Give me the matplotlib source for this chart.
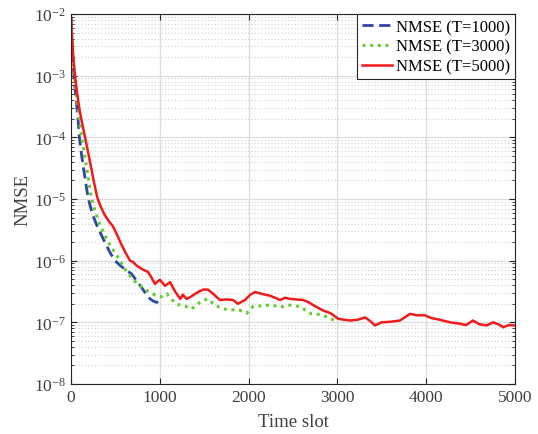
import matplotlib
matplotlib.use("Agg")
import matplotlib.pyplot as plt
from matplotlib.ticker import LogLocator, NullFormatter, MultipleLocator

plt.rcParams['font.family'] = ['Liberation Serif', 'DejaVu Serif']
plt.rcParams['mathtext.fontset'] = 'custom'
plt.rcParams['mathtext.rm'] = 'Liberation Serif'
plt.rcParams['mathtext.it'] = 'Liberation Serif:italic'
plt.rcParams['axes.unicode_minus'] = False

# T = 1000
t_1000 = [0, 10, 20, 30, 45, 60, 80, 94, 120, 150, 175, 195, 240, 285, 327, 380,
          440, 495, 560, 627, 683, 730, 777, 830, 890, 930, 965, 1000]
nmse_1000 = [8.6e-3, 3.6e-3, 1.9e-3, 1.15e-3, 6.2e-4, 3.8e-4, 1.9e-4, 1.0e-4, 5.0e-5,
             2.6e-5, 1.5e-5, 1.0e-5, 5.8e-6, 3.9e-6, 2.9e-6, 2.0e-6, 1.35e-6, 1.0e-6,
             8.2e-7, 6.9e-7, 6.1e-7, 4.9e-7, 4.0e-7, 3.1e-7, 2.4e-7, 2.2e-7, 2.1e-7, 2.25e-7]

# T = 3000
t_3000 = [0, 10, 20, 30, 45, 60, 80, 100, 120, 150, 180, 205, 232, 270, 320, 364, 420,
          480, 552, 600, 664, 720, 777, 850, 920, 965, 1020, 1078, 1130, 1180, 1228,
          1300, 1359, 1410, 1453, 1500, 1543, 1620, 1712, 1800, 1903, 1978, 2050, 2147,
          2241, 2300, 2354, 2420, 2466, 2579, 2650, 2710, 2780, 2841, 2920, 2991]
nmse_3000 = [8.6e-3, 4.0e-3, 2.2e-3, 1.4e-3, 8e-4, 5e-4, 3e-4, 1.7e-4, 1.0e-4, 5.5e-5,
             3e-5, 1.7e-5, 1.0e-5, 6.5e-6, 4.0e-6, 2.9e-6, 2.0e-6, 1.45e-6, 1.0e-6,
             7.5e-7, 5.7e-7, 4.6e-7, 3.9e-7, 3.3e-7, 2.9e-7, 2.7e-7, 2.6e-7, 2.9e-7,
             2.4e-7, 2.0e-7, 1.9e-7, 1.8e-7, 1.65e-7, 1.9e-7, 2.1e-7, 2.3e-7, 2.4e-7,
             1.9e-7, 1.65e-7, 1.6e-7, 1.57e-7, 1.4e-7, 1.8e-7, 1.85e-7, 1.9e-7, 1.85e-7,
             1.75e-7, 1.85e-7, 1.9e-7, 1.8e-7, 1.55e-7, 1.37e-7, 1.35e-7, 1.3e-7,
             1.15e-7, 1.05e-7]

# T = 5000
t_5000 = [0, 10, 20, 30, 45, 60, 80, 100, 125, 158, 175, 190, 205, 220, 240, 255, 275,
          290, 310, 330, 355, 380, 430, 473, 520, 570, 620, 664, 700, 740, 800, 870,
          910, 945, 1000, 1060, 1115, 1170, 1230, 1260, 1300, 1350, 1430, 1490, 1543,
          1600, 1678, 1750, 1825, 1880, 1960, 2020, 2072, 2147, 2241, 2300, 2354, 2410,
          2466, 2540, 2616, 2680, 2729, 2790, 2841, 2900, 2935, 3010, 3080, 3142, 3230,
          3311, 3370, 3424, 3499, 3600, 3705, 3760, 3818, 3900, 3986, 4060, 4155, 4268,
          4380, 4450, 4527, 4600, 4681, 4756, 4820, 4868, 4930, 5000]
nmse_5000 = [8.6e-3, 4.5e-3, 2.6e-3, 1.7e-3, 1.0e-3, 6.5e-4, 4.0e-4, 2.6e-4, 1.7e-4,
             1.0e-4, 7.6e-5, 6.0e-5, 4.6e-5, 3.6e-5, 2.6e-5, 2.0e-5, 1.45e-5, 1.15e-5,
             9.2e-6, 7.8e-6, 6.5e-6, 5.5e-6, 4.3e-6, 3.6e-6, 2.6e-6, 1.8e-6, 1.3e-6,
             1.0e-6, 9.5e-7, 8.3e-7, 7.3e-7, 6.5e-7, 5.2e-7, 4.2e-7, 4.9e-7, 3.9e-7,
             4.5e-7, 3.2e-7, 2.4e-7, 2.8e-7, 2.4e-7, 2.6e-7, 3.1e-7, 3.4e-7, 3.4e-7,
             2.9e-7, 2.3e-7, 2.35e-7, 2.3e-7, 2.0e-7, 2.3e-7, 2.8e-7, 3.1e-7, 2.9e-7,
             2.7e-7, 2.5e-7, 2.3e-7, 2.5e-7, 2.4e-7, 2.35e-7, 2.3e-7, 2.1e-7, 1.9e-7,
             1.7e-7, 1.55e-7, 1.45e-7, 1.37e-7, 1.14e-7, 1.1e-7, 1.07e-7, 1.1e-7, 1.2e-7,
             1.05e-7, 8.9e-8, 1.0e-7, 1.02e-7, 1.07e-7, 1.2e-7, 1.37e-7, 1.3e-7, 1.3e-7,
             1.17e-7, 1.1e-7, 1.0e-7, 9.5e-8, 9.0e-8, 1.07e-7, 9.3e-8, 8.9e-8, 1.0e-7,
             9.2e-8, 8.3e-8, 9.0e-8, 8.9e-8]

labels = ['NMSE (T=1000)', 'NMSE (T=3000)', 'NMSE (T=5000)']
x_ticks = [0, 1000, 2000, 3000, 4000, 5000]
y_ticks = [1e-8, 1e-7, 1e-6, 1e-5, 1e-4, 1e-3, 1e-2]

gray = '#262626'

fig = plt.figure(figsize=(5.38, 4.35), dpi=100)
ax = fig.add_axes([0.132, 0.115, 0.825, 0.8505])

ax.plot(t_1000, nmse_1000, color='#2B48A6', linestyle=(0, (4, 2)), linewidth=2, label=labels[0])
ax.plot(t_3000, nmse_3000, color='#66CC33', linestyle=(0, (1, 1.5)), linewidth=2.2, label=labels[1])
ax.plot(t_5000, nmse_5000, color='#F01A1A', linestyle='-', linewidth=1.8, label=labels[2])

ax.set_yscale('log')
ax.set_xlim(0, 5000)
ax.set_ylim(1e-8, 1e-2)
ax.set_xticks(x_ticks)
ax.set_yticks(y_ticks)
ax.yaxis.set_minor_locator(LogLocator(base=10, subs=range(2, 10), numticks=20))
ax.yaxis.set_minor_formatter(NullFormatter())

ax.grid(True, which='major', color='#dcdcdc', linewidth=0.9, linestyle='-')
ax.grid(True, which='minor', axis='y', color='#cfcfcf', linewidth=0.8, linestyle=(0, (1, 2)))
ax.set_axisbelow(True)

ax.tick_params(which='both', direction='in', top=True, right=True, colors=gray,
               labelsize=12.5, labelcolor='#404040')
ax.tick_params(which='major', length=4)
ax.tick_params(which='minor', length=2.5, labelleft=False)
for s in ax.spines.values():
    s.set_color(gray)
    s.set_linewidth(0.8)

ax.set_xlabel('Time slot', fontsize=13.5, color='#404040', labelpad=6)
ax.set_ylabel('NMSE', fontsize=13.5, color='#404040', labelpad=2)

leg = ax.legend(loc='upper right', fontsize=12, borderaxespad=0, handlelength=1.8,
                handletextpad=0.2, labelspacing=0.22, borderpad=0.3,
                fancybox=False, framealpha=1)
leg.get_frame().set_edgecolor(gray)
leg.get_frame().set_linewidth(0.8)

fig.savefig('out.png', dpi=100)
